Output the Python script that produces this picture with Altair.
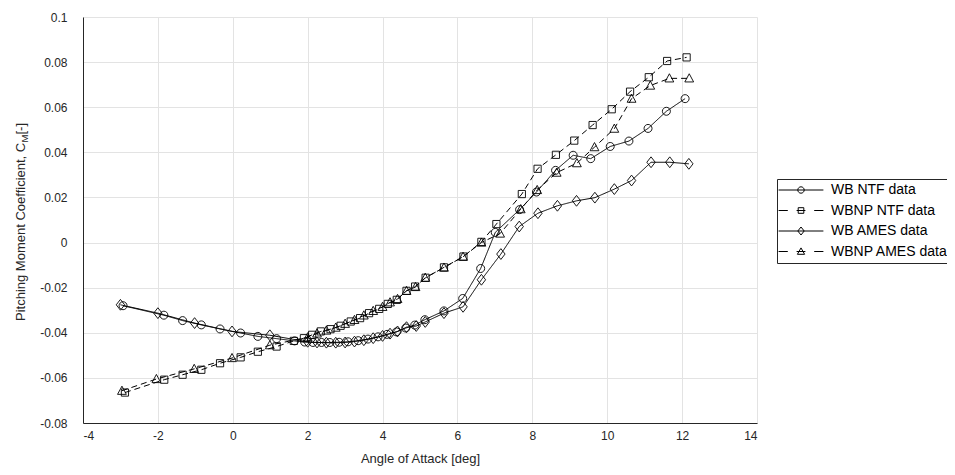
import altair as alt
import pandas as pd

FONT = "Liberation Sans"
SERIES = ["WB NTF data", "WBNP NTF data", "WB AMES data", "WBNP AMES data"]

# ---- data ----
wb_ntf_alpha = [-2.93, -1.84, -1.34, -0.84, -0.34, 0.21, 0.67, 1.17, 1.65, 1.92, 2.14, 2.37,
                2.59, 2.84, 3.08, 3.35, 3.61, 3.88, 4.12, 4.37, 4.62, 4.86, 5.13, 5.64,
                6.14, 6.62, 7.01, 7.66, 8.11, 8.62, 9.09, 9.56, 10.08, 10.58, 11.09, 11.58, 12.08]
wb_ntf_cm = [-0.0280, -0.0322, -0.0346, -0.0365, -0.0383, -0.0401, -0.0416, -0.0426, -0.0436,
             -0.0441, -0.0443, -0.0443, -0.0443, -0.0442, -0.0440, -0.0435, -0.0428, -0.0418,
             -0.0407, -0.0396, -0.0379, -0.0366, -0.0342, -0.0303, -0.0248, -0.0115, 0.0045,
             0.0146, 0.0224, 0.0320, 0.0387, 0.0372, 0.0426, 0.0450, 0.0506, 0.0582, 0.0638]

wbnp_ntf_alpha = [-2.88, -1.83, -1.34, -0.84, -0.34, 0.21, 0.67, 1.17, 1.63, 1.90, 2.12, 2.35,
                  2.61, 2.88, 3.15, 3.40, 3.64, 3.91, 4.14, 4.38, 4.64, 4.87, 5.15, 5.64,
                  6.16, 6.64, 7.04, 7.72, 8.14, 8.63, 9.12, 9.61, 10.12, 10.61, 11.11, 11.60, 12.12]
wbnp_ntf_cm = [-0.0665, -0.0608, -0.0586, -0.0564, -0.0535, -0.0509, -0.0484, -0.0461, -0.0436,
               -0.0424, -0.0409, -0.0394, -0.0384, -0.0369, -0.0350, -0.0335, -0.0313, -0.0294,
               -0.0272, -0.0254, -0.0214, -0.0195, -0.0156, -0.0110, -0.0062, 0.0003, 0.0082,
               0.0215, 0.0327, 0.0389, 0.0452, 0.0521, 0.0591, 0.0669, 0.0733, 0.0805, 0.0821]

wb_ames_alpha = [-3.00, -2.00, -1.02, -0.02, 0.99, 2.00, 2.25, 2.50, 2.75, 3.00, 3.25, 3.50,
                 3.75, 4.00, 4.20, 4.40, 4.64, 4.90, 5.14, 5.64, 6.15, 6.64, 7.16, 7.65, 8.15,
                 8.67, 9.18, 9.67, 10.19, 10.65, 11.17, 11.67, 12.18]
wb_ames_cm = [-0.0276, -0.0313, -0.0357, -0.0394, -0.0411, -0.0440, -0.0443, -0.0444, -0.0444,
              -0.0443, -0.0439, -0.0433, -0.0424, -0.0414, -0.0404, -0.0394, -0.0375, -0.0370,
              -0.0352, -0.0313, -0.0285, -0.0165, -0.0051, 0.0071, 0.0130, 0.0163, 0.0185,
              0.0199, 0.0237, 0.0275, 0.0356, 0.0356, 0.0349]

wbnp_ames_alpha = [-2.96, -2.04, -1.03, -0.02, 0.99, 2.00, 2.25, 2.50, 2.75, 3.00, 3.25, 3.50,
                   3.75, 4.00, 4.20, 4.40, 4.64, 4.88, 5.14, 5.64, 6.15, 6.64, 7.14, 7.69, 8.13,
                   8.65, 9.19, 9.66, 10.19, 10.65, 11.15, 11.66, 12.19]
wbnp_ames_cm = [-0.0657, -0.0605, -0.0560, -0.0512, -0.0455, -0.0420, -0.0403, -0.0390, -0.0377,
                -0.0360, -0.0343, -0.0323, -0.0303, -0.0285, -0.0265, -0.0250, -0.0214, -0.0197,
                -0.0156, -0.0111, -0.0063, 0.0000, 0.0040, 0.0148, 0.0233, 0.0310, 0.0352,
                0.0423, 0.0505, 0.0638, 0.0696, 0.0728, 0.0728]

x_ticks = [-4, -2, 0, 2, 4, 6, 8, 10, 12, 14]
y_ticks = [-0.08, -0.06, -0.04, -0.02, 0, 0.02, 0.04, 0.06, 0.08, 0.1]
y_title_parts = ["Pitching Moment Coefficient, C", "M", "\u00a0[-]"]

# ---- table ----
frames = []
for name, xs, ys in zip(SERIES,
                        [wb_ntf_alpha, wbnp_ntf_alpha, wb_ames_alpha, wbnp_ames_alpha],
                        [wb_ntf_cm, wbnp_ntf_cm, wb_ames_cm, wbnp_ames_cm]):
    frames.append(pd.DataFrame({"series": name, "alpha": xs, "cm": ys, "idx": range(len(xs))}))
df = pd.concat(frames, ignore_index=True)

AX = "#262626"
GRID = "#e3e3e3"

label_expr = "datum.value < 0 ? '-' + format(-datum.value, '~g') : format(datum.value, '~g')"

x_enc = alt.X("alpha:Q",
              scale=alt.Scale(domain=[-4, 14], nice=False, zero=False),
              axis=alt.Axis(values=x_ticks, title="Angle of Attack [deg]", grid=True,
                            gridColor=GRID, ticks=False, labelPadding=7, labelExpr=label_expr,
                            labelFont=FONT, labelFontSize=12, labelColor=AX,
                            titleFont=FONT, titleFontSize=13, titleFontWeight="normal",
                            titleColor=AX, titlePadding=11, domainColor=AX, domainWidth=1))
y_enc = alt.Y("cm:Q",
              scale=alt.Scale(domain=[-0.08, 0.1], nice=False, zero=False),
              axis=alt.Axis(values=y_ticks, title=None, grid=True, gridColor=GRID,
                            ticks=False, labelPadding=16, labelExpr=label_expr,
                            labelFont=FONT, labelFontSize=12, labelColor=AX,
                            domainColor=AX, domainWidth=1))

DASHES = [[1, 0], [6, 4], [1, 0], [6, 4]]
MARKERS = [
    "M1,0A1,1,0,1,1,-1,0A1,1,0,1,1,1,0Z",
    "M-0.9,-0.9H0.9V0.9H-0.9Z",
    "M0,-1.35L1.05,0L0,1.35L-1.05,0Z",
    "M0,-1.15L1.1,0.9L-1.1,0.9Z",
]
LEG = [
    "M-5.6,0H5.6M0.8,0A0.8,0.8,0,1,1,-0.8,0A0.8,0.8,0,1,1,0.8,0",
    "M-5.6,0H-3.3M-1.1,0H1.1M3.3,0H5.6M-0.7,-0.7H0.7V0.7H-0.7Z",
    "M-5.6,0H5.6M0,-1L0.8,0L0,1L-0.8,0Z",
    "M-5.6,0H-3.3M-1.1,0H1.1M3.3,0H5.6M0,-0.9L0.9,0.7L-0.9,0.7Z",
]

base = alt.Chart(df)

lines = base.mark_line(color="black", strokeWidth=1).encode(
    x=x_enc, y=y_enc, detail="series:N", order="idx:Q",
    strokeDash=alt.StrokeDash("series:N", scale=alt.Scale(domain=SERIES, range=DASHES), legend=None),
)

points = base.mark_point(filled=False, color="black", strokeWidth=0.9, size=64, opacity=1).encode(
    x=x_enc, y=y_enc,
    shape=alt.Shape("series:N", scale=alt.Scale(domain=SERIES, range=MARKERS), legend=None),
)

legend_layer = base.transform_filter("false").mark_point(
    filled=False, color="black", strokeWidth=1, size=64, opacity=1
).encode(
    x=x_enc, y=y_enc,
    shape=alt.Shape("series:N", scale=alt.Scale(domain=SERIES, range=LEG),
                    legend=alt.Legend(title=None, orient="none", legendX=694, legendY=162,
                                      padding=4, strokeColor=AX, fillColor="white",
                                      symbolSize=64, symbolStrokeColor="black",
                                      symbolFillColor="transparent", symbolStrokeWidth=1,
                                      symbolOpacity=1, symbolOffset=13, labelOffset=23,
                                      labelFont=FONT, labelFontSize=14, labelColor="black",
                                      rowPadding=6.5, labelLimit=300)),
)

def ytext(txt, x, y, size):
    return alt.Chart(pd.DataFrame({"t": [txt]})).mark_text(
        angle=270, align="left", baseline="alphabetic", font=FONT, fontSize=size, color=AX
    ).encode(text="t:N", x=alt.value(x), y=alt.value(y))

t1 = ytext(y_title_parts[0], -58, 304, 13)
t2 = ytext(y_title_parts[1], -55, 125.5, 9.5)
t3 = ytext(y_title_parts[2], -58, 117.5, 13)

chart = alt.layer(lines, points, legend_layer, t1, t2, t3).resolve_scale(
    shape="independent"
).properties(
    width=674, height=406,
    padding={"left": 75, "top": 9, "right": 190, "bottom": 44},
    autosize=alt.AutoSizeParams(type="none"),
).configure_view(stroke=None)

chart.save("out.html", embed_options={"renderer": "svg", "actions": False})
